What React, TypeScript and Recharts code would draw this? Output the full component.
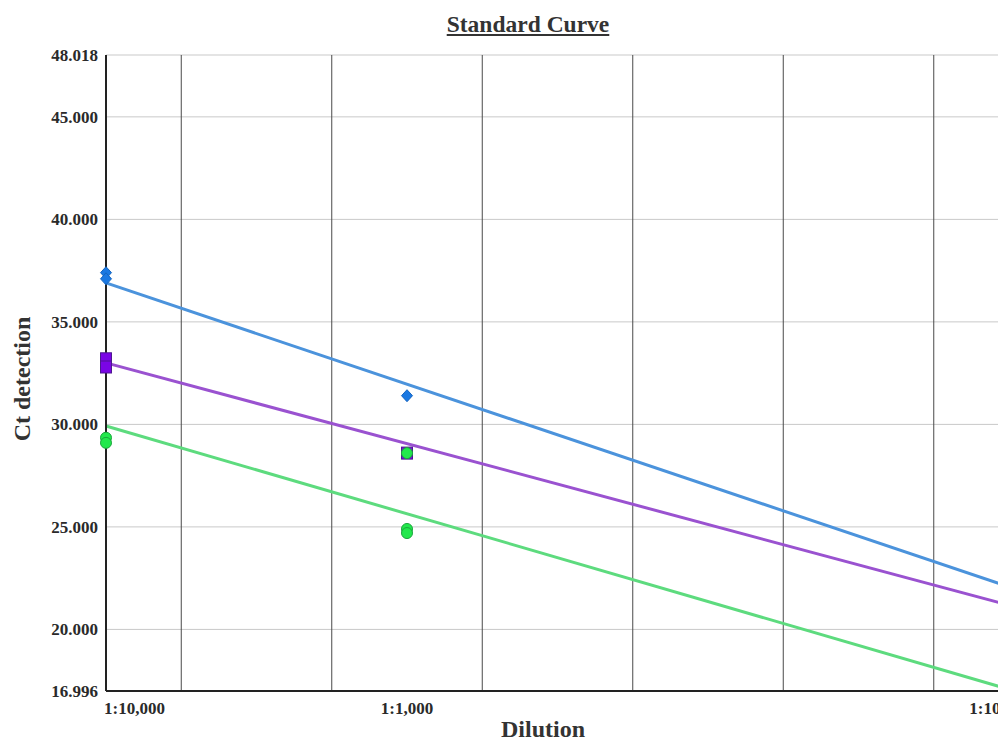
import React from "react";
import {
  ComposedChart,
  Line,
  Scatter,
  XAxis,
  YAxis,
  CartesianGrid,
  ReferenceLine,
} from "recharts";

// dilution position in decades from 1:10,000
const dilutionTicks = [0, 1, 3];
const dilutionLabels = ["1:10,000", "1:1,000", "1:100"];
const gridX = [0.25, 0.75, 1.25, 1.75, 2.25, 2.75];
const ctTicks = [16.996, 20, 25, 30, 35, 40, 45, 48.018];

const blueX = [0, 0, 1];
const blueCt = [37.4, 37.1, 31.4];
const purpleX = [0, 0, 1];
const purpleCt = [33.2, 32.8, 28.6];
const greenX = [0, 0, 1, 1, 1];
const greenCt = [29.35, 29.1, 28.6, 24.9, 24.7];

const fitX = [0, 3];
const blueFit = [36.9, 22.08];
const purpleFit = [33.0, 21.18];
const greenFit = [29.92, 17.08];

const toRows = (xs: number[], ys: number[]) => xs.map((x, i) => ({ x, y: ys[i] }));

const FONT = "'Liberation Serif', 'Times New Roman', serif";

const XTick = (props: any) => {
  const { x, y, payload } = props;
  const i = dilutionTicks.indexOf(payload.value);
  const anchor = i === 0 ? "start" : i === dilutionTicks.length - 1 ? "end" : "middle";
  return (
    <text
      x={i === 0 ? x - 2 : x}
      y={y + 15}
      textAnchor={anchor}
      fontFamily={FONT}
      fontWeight="bold"
      fontSize={17}
      fill="#2a2a2a"
    >
      {dilutionLabels[i]}
    </text>
  );
};

const Diamond = (p: any) => (
  <path
    d={`M${p.cx},${p.cy - 6} L${p.cx + 5.5},${p.cy} L${p.cx},${p.cy + 6} L${p.cx - 5.5},${p.cy} Z`}
    fill="#1a78e2"
    stroke="#1565c0"
    strokeWidth={1}
  />
);

const Square = (p: any) => (
  <rect x={p.cx - 5.5} y={p.cy - 6} width={11} height={12} fill="#7a05e6" stroke="#4e1890" strokeWidth={1} />
);

const Dot = (p: any) => (
  <circle cx={p.cx} cy={p.cy} r={5.5} fill="#22e84c" stroke="#1aa63c" strokeWidth={1} />
);

export default function App() {
  return (
    <div
      style={{
        position: "fixed",
        left: 0,
        top: 0,
        width: 998,
        height: 743,
        overflow: "hidden",
        background: "#fff",
        fontFamily: FONT,
      }}
    >
      <ComposedChart width={1040} height={743} margin={{ top: 55, right: 31, left: 0, bottom: 22 }}>
        <CartesianGrid vertical={false} stroke="#c9c9c9" strokeWidth={1} />
        {gridX.map((g) => (
          <ReferenceLine key={g} x={g} stroke="#4a4a4a" strokeWidth={1} />
        ))}
        <XAxis
          type="number"
          dataKey="x"
          domain={[0, 3]}
          ticks={dilutionTicks}
          tick={<XTick />}
          tickLine={false}
          axisLine={{ stroke: "#222", strokeWidth: 2 }}
          height={30}
        />
        <YAxis
          type="number"
          dataKey="y"
          domain={[16.996, 48.018]}
          ticks={ctTicks}
          tickFormatter={(v: number) => v.toFixed(3)}
          tick={{ fontFamily: FONT, fontWeight: "bold", fontSize: 17, fill: "#2a2a2a" }}
          tickLine={false}
          axisLine={{ stroke: "#222", strokeWidth: 2 }}
          width={106}
        />
        <Line data={toRows(fitX, blueFit)} dataKey="y" stroke="#4b93dc" strokeWidth={3} dot={false} isAnimationActive={false} />
        <Line data={toRows(fitX, purpleFit)} dataKey="y" stroke="#9a52d0" strokeWidth={3} dot={false} isAnimationActive={false} />
        <Line data={toRows(fitX, greenFit)} dataKey="y" stroke="#5ddb7e" strokeWidth={3} dot={false} isAnimationActive={false} />
        <Scatter data={toRows(blueX, blueCt)} dataKey="y" shape={<Diamond />} isAnimationActive={false} />
        <Scatter data={toRows(purpleX, purpleCt)} dataKey="y" shape={<Square />} isAnimationActive={false} />
        <Scatter data={toRows(greenX, greenCt)} dataKey="y" shape={<Dot />} isAnimationActive={false} />
      </ComposedChart>
      <div
        style={{
          position: "absolute",
          left: 428,
          top: 10,
          width: 200,
          textAlign: "center",
          fontSize: 23.5,
          fontWeight: "bold",
          textDecoration: "underline",
          color: "#333",
          lineHeight: "28px",
        }}
      >
        Standard Curve
      </div>
      <div
        style={{
          position: "absolute",
          left: 443,
          top: 716,
          width: 200,
          textAlign: "center",
          fontSize: 24,
          fontWeight: "bold",
          color: "#333",
          lineHeight: "26px",
        }}
      >
        Dilution
      </div>
      <div
        style={{
          position: "absolute",
          left: 22,
          top: 379,
          transform: "translate(-50%, -50%) rotate(-90deg)",
          fontSize: 24,
          fontWeight: "bold",
          color: "#333",
          whiteSpace: "nowrap",
          lineHeight: "28px",
        }}
      >
        Ct detection
      </div>
    </div>
  );
}
